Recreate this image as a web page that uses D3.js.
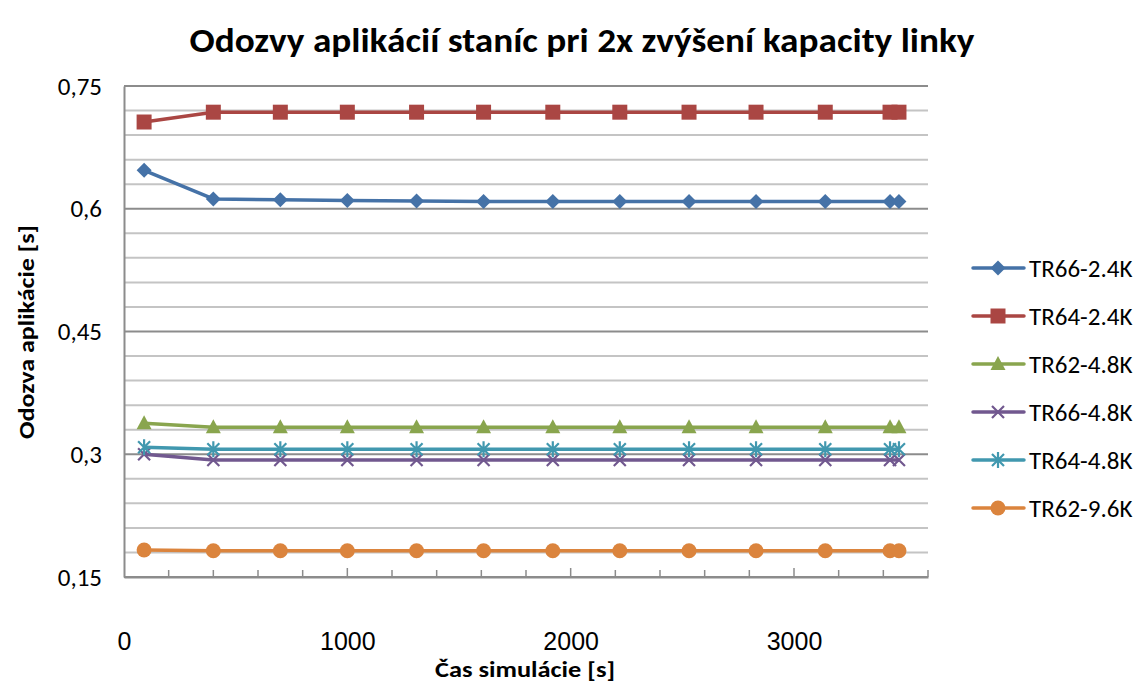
<!DOCTYPE html>
<html>
<head>
<meta charset="utf-8">
<script src="https://cdn.jsdelivr.net/npm/d3@7"></script>
<style>
  html, body { margin: 0; padding: 0; background: #fff; }
  svg { display: block; font-family: Carlito, "Open Sans", "Noto Sans", sans-serif; }
</style>
</head>
<body>
<svg id="chart" width="1143" height="683"></svg>
<script>
// Simulation time samples [s]
const times = [90, 400, 700, 1000, 1310, 1610, 1920, 2220, 2530, 2830, 3140, 3430, 3470];

// Application response per station [s]
const tr66_24 = [0.647, 0.612, 0.611, 0.610, 0.6095, 0.609, 0.609, 0.609, 0.609, 0.609, 0.609, 0.609, 0.609];
const tr64_24 = [0.706, 0.718, 0.718, 0.718, 0.718, 0.718, 0.718, 0.718, 0.718, 0.718, 0.718, 0.718, 0.718];
const tr62_48 = [0.338, 0.333, 0.333, 0.333, 0.333, 0.333, 0.333, 0.333, 0.333, 0.333, 0.333, 0.333, 0.333];
const tr66_48 = [0.300, 0.293, 0.293, 0.293, 0.293, 0.293, 0.293, 0.293, 0.293, 0.293, 0.293, 0.293, 0.293];
const tr64_48 = [0.3085, 0.306, 0.306, 0.306, 0.306, 0.306, 0.306, 0.306, 0.306, 0.306, 0.306, 0.306, 0.306];
const tr62_96 = [0.183, 0.182, 0.182, 0.182, 0.182, 0.182, 0.182, 0.182, 0.182, 0.182, 0.182, 0.182, 0.182];

const seriesNames = ["TR66-2.4K", "TR64-2.4K", "TR62-4.8K", "TR66-4.8K", "TR64-4.8K", "TR62-9.6K"];
const seriesValues = [tr66_24, tr64_24, tr62_48, tr66_48, tr64_48, tr62_96];
const seriesColors = ["#4572A7", "#AA4643", "#89A54E", "#71588F", "#4198AF", "#DB843D"];
const seriesMarkers = ["diamond", "square", "triangle", "x", "star", "circle"];

const yTicks = [0.15, 0.3, 0.45, 0.6, 0.75];
const xTicks = [0, 1000, 2000, 3000];

const titleText = "Odozvy  aplikácií staníc pri 2x zvýšení kapacity linky";
const xLabel = "Čas simulácie [s]";
const yLabel = "Odozva aplikácie [s]";

const svg = d3.select("#chart");
const x = d3.scaleLinear().domain([0, 3600]).range([124, 928]);
const y = d3.scaleLinear().domain([0.15, 0.75]).range([577, 86]);

// Gridlines: light every 0.03, darker at labelled values
const minorGrid = d3.range(0, 21).map(i => +(0.15 + i * 0.03).toFixed(3));
svg.append("g").selectAll("line").data(minorGrid).join("line")
  .attr("x1", x(0)).attr("x2", x(3600))
  .attr("y1", d => y(d)).attr("y2", d => y(d))
  .attr("stroke", d => yTicks.some(t => Math.abs(t - d) < 1e-6) ? "#8c8c8c" : "#c4c4c4")
  .attr("stroke-width", 2);

// Y axis
const yAxis = svg.append("g").attr("transform", `translate(${x(0)},0)`)
  .call(d3.axisLeft(y).tickValues(yTicks).tickSize(0).tickPadding(22)
    .tickFormat(d => String(d).replace(".", ",")));
yAxis.select(".domain").attr("stroke", "#8c8c8c").attr("stroke-width", 2);
yAxis.selectAll("text").attr("font-size", 25).attr("fill", "#000")
  .attr("font-family", "Carlito, 'Open Sans', sans-serif");

// X axis (ticks point into the plot)
const xAxis = svg.append("g").attr("transform", `translate(0,${y(0.15)})`)
  .call(d3.axisBottom(x).tickValues(xTicks).tickSize(0).tickPadding(55)
    .tickFormat(d3.format("d")));
xAxis.select(".domain").attr("stroke", "#8c8c8c").attr("stroke-width", 2);
xAxis.selectAll("text").attr("font-size", 25).attr("fill", "#000");
const minorX = d3.range(200, 3601, 200);
xAxis.append("g").selectAll("line").data(minorX).join("line")
  .attr("x1", d => x(d)).attr("x2", d => x(d))
  .attr("y1", 0).attr("y2", d => d % 1000 === 0 ? -9 : -7)
  .attr("stroke", "#8c8c8c").attr("stroke-width", 1.5);

// Marker shapes
function markerPath(type) {
  switch (type) {
    case "diamond": return "M0,-7.5L7.5,0L0,7.5L-7.5,0Z";
    case "square": return "M-7.5,-7.5H7.5V7.5H-7.5Z";
    case "triangle": return "M0,-8L7.5,6L-7.5,6Z";
    case "circle": return d3.symbol(d3.symbolCircle, Math.PI * 7.5 * 7.5)();
    case "x": return "M-6,-6L6,6M-6,6L6,-6";
    case "star": return "M-6,-6L6,6M-6,6L6,-6M0,-8L0,8";
  }
}
function drawMarker(g, type, color) {
  const p = g.append("path").attr("d", markerPath(type));
  if (type === "x" || type === "star") {
    p.attr("fill", "none").attr("stroke", color).attr("stroke-width", 2.2);
  } else {
    p.attr("fill", color);
  }
}

const line = d3.line().x(d => x(d[0])).y(d => y(d[1]));

seriesValues.forEach((vals, i) => {
  const pts = times.map((t, k) => [t, vals[k]]);
  const g = svg.append("g");
  g.append("path").datum(pts).attr("d", line)
    .attr("fill", "none").attr("stroke", seriesColors[i])
    .attr("stroke-width", 3.5).attr("stroke-linejoin", "round");
  pts.forEach(p => {
    const mg = g.append("g").attr("transform", `translate(${x(p[0])},${y(p[1])})`);
    drawMarker(mg, seriesMarkers[i], seriesColors[i]);
  });
});

// Legend
const legend = svg.append("g");
seriesNames.forEach((name, i) => {
  const ly = 268 + i * 48;
  const g = legend.append("g").attr("transform", `translate(0,${ly})`);
  g.append("line").attr("x1", 973).attr("x2", 1024).attr("y1", 0).attr("y2", 0)
    .attr("stroke", seriesColors[i]).attr("stroke-width", 3.5).attr("stroke-linecap", "round");
  const mg = g.append("g").attr("transform", "translate(998,0)");
  drawMarker(mg, seriesMarkers[i], seriesColors[i]);
  g.append("text").attr("x", 1029).attr("y", 0).attr("dy", "0.35em")
    .attr("font-size", 25).attr("fill", "#000").text(name);
});

// Title and axis titles
svg.append("text").attr("x", 582).attr("y", 52).attr("text-anchor", "middle")
  .attr("font-size", 35).attr("font-weight", "bold").attr("fill", "#000")
  .attr("textLength", 785).attr("lengthAdjust", "spacingAndGlyphs")
  .text(titleText);
svg.append("text").attr("x", 525).attr("y", 677).attr("text-anchor", "middle")
  .attr("font-size", 23).attr("font-weight", "bold").attr("fill", "#000")
  .attr("textLength", 180).attr("lengthAdjust", "spacingAndGlyphs")
  .text(xLabel);
svg.append("text").attr("transform", "translate(34,332) rotate(-90)")
  .attr("text-anchor", "middle")
  .attr("font-size", 23).attr("font-weight", "bold").attr("fill", "#000")
  .attr("textLength", 214).attr("lengthAdjust", "spacingAndGlyphs")
  .text(yLabel);
</script>
</body>
</html>
